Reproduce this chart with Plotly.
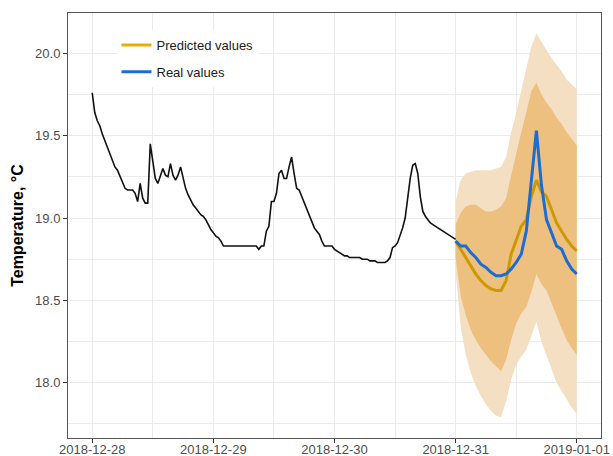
import pandas as pd
import plotly.graph_objects as go

# Observed temperature, half-hourly from 2018-12-28 00:00 to 2018-12-31 00:00
obs_start = "2018-12-28 00:00"
obs_temp = [
    19.76, 19.64, 19.59, 19.56, 19.51, 19.47, 19.42, 19.39, 19.34, 19.31,
    19.29, 19.25, 19.21, 19.18, 19.17, 19.17, 19.17, 19.15, 19.10, 19.21,
    19.12, 19.09, 19.09, 19.45, 19.34, 19.24, 19.21, 19.25, 19.30, 19.26,
    19.25, 19.33, 19.26, 19.23, 19.26, 19.31, 19.25, 19.18, 19.14, 19.11,
    19.08, 19.06, 19.04, 19.02, 19.01, 18.99, 18.96, 18.93, 18.91, 18.89,
    18.88, 18.86, 18.83, 18.83, 18.83, 18.83, 18.83, 18.83, 18.83, 18.83,
    18.83, 18.83, 18.83, 18.83, 18.83, 18.83, 18.81, 18.83, 18.83, 18.92,
    18.95, 19.10, 19.10, 19.15, 19.27, 19.29, 19.24, 19.24, 19.31, 19.37,
    19.27, 19.18, 19.17, 19.13, 19.09, 19.05, 19.02, 18.97, 18.94, 18.92,
    18.90, 18.86, 18.83, 18.83, 18.83, 18.83, 18.81, 18.80, 18.79, 18.78,
    18.77, 18.77, 18.76, 18.76, 18.76, 18.76, 18.76, 18.75, 18.75, 18.75,
    18.74, 18.74, 18.74, 18.73, 18.73, 18.73, 18.73, 18.74, 18.76, 18.82,
    18.83, 18.85, 18.89, 18.94, 19.00, 19.12, 19.24, 19.32, 19.33, 19.27,
    19.13, 19.04, 19.01, 18.99, 18.97, 18.96, 18.95, 18.94, 18.93, 18.92,
    18.91, 18.90, 18.89, 18.88, 18.87,
]

# Forecast horizon, hourly from 2018-12-31 00:00 to 2019-01-01 00:00
fc_start = "2018-12-31 00:00"
predicted = [
    18.86, 18.81, 18.76, 18.71, 18.66, 18.62, 18.59, 18.57, 18.56, 18.56,
    18.62, 18.78, 18.87, 18.95, 18.99, 19.13, 19.23, 19.16, 19.13, 19.05,
    18.97, 18.92, 18.87, 18.83, 18.80,
]
real = [
    18.86, 18.83, 18.83, 18.79, 18.76, 18.72, 18.70, 18.67, 18.65, 18.65,
    18.66, 18.69, 18.73, 18.78, 18.92, 19.23, 19.53, 19.20, 18.99, 18.91,
    18.83, 18.81, 18.74, 18.69, 18.66,
]
lo95 = [
    18.68, 18.34, 18.17, 18.06, 17.98, 17.92, 17.87, 17.83, 17.80, 17.79,
    17.89, 18.02, 18.11, 18.16, 18.20, 18.28, 18.37, 18.25, 18.17, 18.08,
    18.00, 17.95, 17.90, 17.85, 17.81,
]
lo80 = [
    18.76, 18.53, 18.41, 18.32, 18.26, 18.21, 18.17, 18.13, 18.10, 18.07,
    18.14, 18.26, 18.36, 18.42, 18.46, 18.55, 18.66, 18.60, 18.56, 18.48,
    18.40, 18.33, 18.26, 18.21, 18.17,
]
hi80 = [
    18.96, 19.03, 19.07, 19.08, 19.08, 19.06, 19.04, 19.04, 19.05, 19.07,
    19.12, 19.26, 19.40, 19.52, 19.64, 19.77, 19.82, 19.75, 19.70, 19.66,
    19.61, 19.57, 19.52, 19.48, 19.44,
]
hi95 = [
    19.10, 19.23, 19.27, 19.28, 19.29, 19.29, 19.29, 19.29, 19.30, 19.31,
    19.37, 19.52, 19.64, 19.78, 19.91, 20.04, 20.12, 20.07, 20.02, 19.97,
    19.93, 19.89, 19.84, 19.81, 19.78,
]

x_ticks = ["2018-12-28", "2018-12-29", "2018-12-30", "2018-12-31", "2019-01-01"]

obs_time = pd.date_range(obs_start, periods=len(obs_temp), freq="30min")
fc_time = pd.date_range(fc_start, periods=len(predicted), freq="h")

PRED_COL = "#CC9A00"
PRED_KEY = "#E6B000"
REAL_COL = "#1C6CD3"

fig = go.Figure()

# 95% interval
fig.add_trace(go.Scatter(x=fc_time, y=lo95, mode="lines", line=dict(width=0),
                         showlegend=False, hoverinfo="skip"))
fig.add_trace(go.Scatter(x=fc_time, y=hi95, mode="lines", line=dict(width=0),
                         fill="tonexty", fillcolor="#F4DFC2",
                         showlegend=False, hoverinfo="skip"))
# 80% interval
fig.add_trace(go.Scatter(x=fc_time, y=lo80, mode="lines", line=dict(width=0),
                         showlegend=False, hoverinfo="skip"))
fig.add_trace(go.Scatter(x=fc_time, y=hi80, mode="lines", line=dict(width=0),
                         fill="tonexty", fillcolor="#EDC07F",
                         showlegend=False, hoverinfo="skip"))

# history
fig.add_trace(go.Scatter(x=obs_time, y=obs_temp, mode="lines",
                         line=dict(color="#111111", width=1.6),
                         showlegend=False))

# forecast vs. actual
fig.add_trace(go.Scatter(x=fc_time, y=predicted, mode="lines",
                         line=dict(color=PRED_COL, width=3),
                         showlegend=False))
fig.add_trace(go.Scatter(x=fc_time, y=real, mode="lines",
                         line=dict(color=REAL_COL, width=3),
                         showlegend=False))

# legend keys
fig.add_trace(go.Scatter(x=[None], y=[None], mode="lines", name="Predicted values",
                         line=dict(color=PRED_KEY, width=3), legendgroup="p"))
fig.add_trace(go.Scatter(x=[None], y=[None], mode="lines", name="Real values",
                         line=dict(color=REAL_COL, width=3), legendgroup="r"))

grid = "#EBEBEB"
axis_font = dict(family="Liberation Sans, Arial, sans-serif", size=13, color="#4D4D4D")

fig.update_layout(
    width=613, height=456,
    margin=dict(l=68, r=12, t=13, b=18),
    paper_bgcolor="white", plot_bgcolor="white",
    font=dict(family="Liberation Sans, Arial, sans-serif"),
    legend=dict(x=0.091, y=0.96, xanchor="left", yanchor="top",
                bgcolor="white", borderwidth=0, tracegroupgap=7,
                font=dict(size=13, color="#1A1A1A")),
    xaxis=dict(
        type="date",
        range=["2018-12-27 19:12", "2019-01-01 04:48"],
        tickvals=x_ticks, ticktext=x_ticks,
        showgrid=True, gridcolor=grid, gridwidth=1.2,
        minor=dict(showgrid=True, gridcolor=grid, gridwidth=0.8,
                   dtick=43200000, tick0="2018-12-28 12:00"),
        ticks="outside", ticklen=4, tickcolor="#333333", tickwidth=1,
        tickfont=axis_font, ticklabelstandoff=-5,
        showline=True, mirror=True, linecolor="#555555", linewidth=1,
        zeroline=False, automargin=False,
    ),
    yaxis=dict(
        range=[17.665, 20.244],
        tickvals=[18.0, 18.5, 19.0, 19.5, 20.0],
        ticktext=["18.0", "18.5", "19.0", "19.5", "20.0"],
        showgrid=True, gridcolor=grid, gridwidth=1.2,
        minor=dict(showgrid=True, gridcolor=grid, gridwidth=0.8,
                   tickvals=[17.75, 18.25, 18.75, 19.25, 19.75]),
        ticks="outside", ticklen=4, tickcolor="#333333", tickwidth=1,
        tickfont=axis_font,
        showline=True, mirror=True, linecolor="#555555", linewidth=1,
        zeroline=False, automargin=False,
        title=dict(text="<b>Temperature, °C</b>", standoff=7,
                   font=dict(size=16, color="black",
                             family="Liberation Sans, Arial, sans-serif")),
    ),
)

fig.write_html("out.html")
